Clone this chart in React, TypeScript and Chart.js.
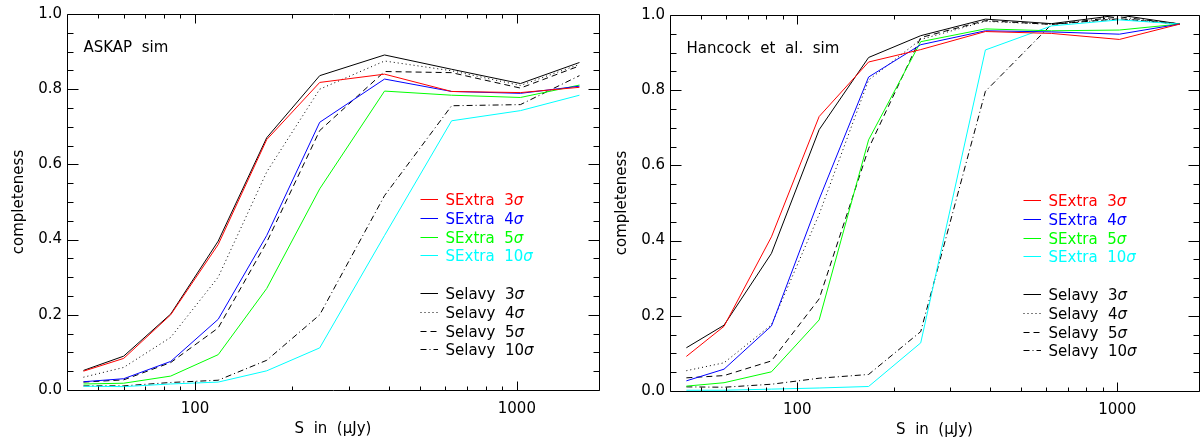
import React, { useEffect, useRef } from "react";
import { Chart, registerables } from "chart.js";

Chart.register(...registerables);

const FONT = '"DejaVu Sans", sans-serif';
Chart.defaults.font.family = FONT;
Chart.defaults.font.size = 15;
Chart.defaults.color = "#000";

// ---------- data ----------
const xMin = 40;
const xMax = 1800;
const xTickValues = [100, 1000];
const yMin = 0;
const yMax = 1;
const yTickStep = 0.2;

const askapFlux = [45, 60, 84, 118, 167, 244, 388, 627, 1026, 1565];
const askapSExtra3 = [0.050, 0.084, 0.200, 0.387, 0.666, 0.818, 0.840, 0.794, 0.791, 0.805];
const askapSExtra4 = [0.022, 0.030, 0.076, 0.188, 0.411, 0.712, 0.827, 0.794, 0.789, 0.808];
const askapSExtra5 = [0.016, 0.018, 0.037, 0.094, 0.270, 0.535, 0.795, 0.784, 0.778, 0.811];
const askapSExtra10 = [0.010, 0.009, 0.016, 0.021, 0.051, 0.112, 0.411, 0.716, 0.743, 0.784];
const askapSelavy3 = [0.052, 0.090, 0.202, 0.396, 0.671, 0.836, 0.891, 0.853, 0.815, 0.871];
const askapSelavy4 = [0.034, 0.060, 0.140, 0.300, 0.580, 0.800, 0.875, 0.849, 0.810, 0.866];
const askapSelavy5 = [0.021, 0.027, 0.073, 0.165, 0.393, 0.690, 0.847, 0.844, 0.803, 0.862];
const askapSelavy10 = [0.011, 0.011, 0.020, 0.026, 0.079, 0.200, 0.517, 0.756, 0.759, 0.836];

const hancockFlux = [45, 59, 83, 117, 167, 243, 387, 623, 1015, 1570];
const hancockSExtra3 = [0.092, 0.172, 0.410, 0.730, 0.875, 0.908, 0.956, 0.951, 0.935, 0.976];
const hancockSExtra4 = [0.027, 0.058, 0.173, 0.510, 0.835, 0.921, 0.958, 0.955, 0.949, 0.976];
const hancockSExtra5 = [0.013, 0.022, 0.051, 0.189, 0.668, 0.929, 0.963, 0.958, 0.960, 0.976];
const hancockSExtra10 = [0.002, 0.002, 0.005, 0.008, 0.012, 0.128, 0.907, 0.971, 0.987, 0.976];
const hancockSelavy3 = [0.115, 0.175, 0.366, 0.695, 0.887, 0.945, 0.989, 0.977, 1.000, 0.976];
const hancockSelavy4 = [0.054, 0.075, 0.176, 0.470, 0.827, 0.935, 0.983, 0.975, 0.990, 0.976];
const hancockSelavy5 = [0.035, 0.041, 0.080, 0.245, 0.645, 0.940, 0.985, 0.975, 0.990, 0.976];
const hancockSelavy10 = [0.011, 0.010, 0.018, 0.034, 0.044, 0.158, 0.797, 0.975, 0.995, 0.976];

const seriesNames = ["SExtra", "SExtra", "SExtra", "SExtra", "Selavy", "Selavy", "Selavy", "Selavy"];
const seriesSigmas = ["3", "4", "5", "10", "3", "4", "5", "10"];
const seriesColors = ["#ff0000", "#0000ff", "#00ff00", "#00ffff", "#000000", "#000000", "#000000", "#000000"];
const seriesTextColors = ["#ff0000", "#0000ff", "#00ff00", "#00ffff", "#000000", "#000000", "#000000", "#000000"];
const seriesDashes: number[][] = [[], [], [], [], [], [1, 3], [6, 4], [6, 3, 1, 3]];

const yTitle = "completeness";
const xTitle = "S  in  (μJy)";

// ---------- decoration plugin ----------
const decorPlugin = {
  id: "decor",
  afterDatasetsDraw(chart: any, _args: any, opts: any) {
    const { ctx, chartArea: a, scales } = chart;
    const xs = scales.x;
    const ys = scales.y;
    const L = Math.round(a.left) + 0.5;
    const R = Math.round(a.right) + 0.5;
    const T = Math.round(a.top) + 0.5;
    const B = Math.round(a.bottom) + 0.5;
    ctx.save();
    ctx.strokeStyle = "#000";
    ctx.lineWidth = 1;
    ctx.setLineDash([]);
    ctx.beginPath();
    ctx.rect(L, T, R - L, B - T);
    ctx.stroke();

    // y ticks
    ctx.beginPath();
    for (let i = 0; i <= 20; i++) {
      const v = yMin + ((yMax - yMin) * i) / 20;
      const major = i % 4 === 0;
      const len = major ? 11 : 6;
      const py = Math.round(ys.getPixelForValue(v)) + 0.5;
      ctx.moveTo(L, py);
      ctx.lineTo(L + len, py);
      ctx.moveTo(R, py);
      ctx.lineTo(R - len, py);
    }
    // x ticks
    const xt: { v: number; major: boolean }[] = [];
    for (let d = 10; d <= 1000; d *= 10) {
      for (let m = 1; m <= 9; m++) {
        const v = m * d;
        if (v > xMin && v < xMax) xt.push({ v, major: xTickValues.includes(v) });
      }
    }
    xt.forEach(({ v, major }) => {
      const len = major ? 9 : 4;
      const px = Math.round(xs.getPixelForValue(v)) + 0.5;
      ctx.moveTo(px, B);
      ctx.lineTo(px, B - len);
      ctx.moveTo(px, T);
      ctx.lineTo(px, T + len);
    });
    ctx.stroke();

    ctx.fillStyle = "#000";
    ctx.font = `15px ${FONT}`;
    ctx.textAlign = "left";
    ctx.textBaseline = "alphabetic";
    // panel title
    ctx.fillText(opts.title, a.left + 16.5, a.top + 38);

    // legend
    const mx0 = a.left + 353.5;
    const mx1 = a.left + 371;
    const tx = a.left + 378.5;
    for (let i = 0; i < seriesNames.length; i++) {
      const row = i < 4 ? i : i + 1;
      const y = a.top + 185 + row * 18.8;
      ctx.strokeStyle = seriesColors[i];
      ctx.setLineDash(seriesDashes[i]);
      ctx.beginPath();
      ctx.moveTo(mx0, Math.round(y) + 0.5);
      ctx.lineTo(mx1, Math.round(y) + 0.5);
      ctx.stroke();
      ctx.setLineDash([]);
      ctx.fillStyle = seriesTextColors[i];
      ctx.font = `15px ${FONT}`;
      const main = `${seriesNames[i]}  ${seriesSigmas[i]}`;
      ctx.fillText(main, tx, y + 6);
      const w = ctx.measureText(main).width;
      ctx.font = `italic 15px ${FONT}`;
      ctx.fillText("σ", tx + w, y + 6);
    }

    // axis titles
    ctx.fillStyle = "#000";
    ctx.font = `15px ${FONT}`;
    ctx.textAlign = "center";
    ctx.fillText(xTitle, (a.left + a.right) / 2, a.bottom + 43);
    ctx.translate(a.left - 44, (a.top + a.bottom) / 2);
    ctx.rotate(-Math.PI / 2);
    ctx.fillText(yTitle, 0, 0);
    ctx.restore();
  },
};

type PanelProps = {
  left: number;
  width: number;
  title: string;
  flux: number[];
  values: number[][];
  padTop: number;
  padRight: number;
  yWidth: number;
  xHeight: number;
};

function Panel({ left, width, title, flux, values, padTop, padRight, yWidth, xHeight }: PanelProps) {
  const ref = useRef<HTMLCanvasElement>(null);
  useEffect(() => {
    if (!ref.current) return;
    const chart = new Chart(ref.current, {
      type: "line",
      data: {
        datasets: values.map((vals, i) => ({
          label: `${seriesNames[i]} ${seriesSigmas[i]}σ`,
          data: flux.map((x, j) => ({ x, y: vals[j] })),
          borderColor: seriesColors[i],
          borderWidth: 1,
          borderDash: seriesDashes[i],
          pointRadius: 0,
          fill: false,
          tension: 0,
        })),
      },
      options: {
        animation: false,
        responsive: false,
        events: [],
        layout: { padding: { top: padTop, right: padRight, left: 0, bottom: 0 } },
        plugins: {
          legend: { display: false },
          tooltip: { enabled: false },
          // @ts-ignore
          decor: { title },
        },
        scales: {
          x: {
            type: "logarithmic",
            min: xMin,
            max: xMax,
            afterFit: (s: any) => {
              s.height = xHeight;
            },
            afterBuildTicks: (s: any) => {
              s.ticks = xTickValues.map((v) => ({ value: v }));
            },
            grid: { display: false, drawTicks: false },
            border: { display: false },
            ticks: {
              autoSkip: false,
              maxRotation: 0,
              padding: 10,
              color: "#000",
              font: { family: FONT, size: 15 },
              callback: (v: any) => String(v),
            },
          },
          y: {
            type: "linear",
            min: yMin,
            max: yMax,
            afterFit: (s: any) => {
              s.width = yWidth;
            },
            grid: { display: false, drawTicks: false },
            border: { display: false },
            ticks: {
              stepSize: yTickStep,
              padding: 5,
              color: "#000",
              font: { family: FONT, size: 15 },
              callback: (v: any) => Number(v).toFixed(1),
            },
          },
        },
      },
      plugins: [decorPlugin],
    });
    return () => chart.destroy();
  }, []);
  return (
    <canvas
      ref={ref}
      width={width}
      height={441}
      style={{ position: "absolute", left, top: 0, width, height: 441 }}
    />
  );
}

export default function App() {
  return (
    <div style={{ position: "absolute", left: 0, top: 0, width: 1203, height: 441, background: "#fff" }}>
      <Panel
        left={0}
        width={602}
        title="ASKAP  sim"
        flux={askapFlux}
        values={[
          askapSExtra3, askapSExtra4, askapSExtra5, askapSExtra10,
          askapSelavy3, askapSelavy4, askapSelavy5, askapSelavy10,
        ]}
        padTop={13}
        padRight={3}
        yWidth={67}
        xHeight={51}
      />
      <Panel
        left={602}
        width={601}
        title="Hancock  et  al.  sim"
        flux={hancockFlux}
        values={[
          hancockSExtra3, hancockSExtra4, hancockSExtra5, hancockSExtra10,
          hancockSelavy3, hancockSelavy4, hancockSelavy5, hancockSelavy10,
        ]}
        padTop={15}
        padRight={4}
        yWidth={68}
        xHeight={50}
      />
    </div>
  );
}
